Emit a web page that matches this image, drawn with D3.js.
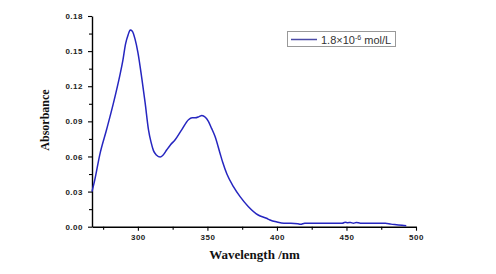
<!DOCTYPE html>
<html>
<head>
<meta charset="utf-8">
<script src="https://cdn.jsdelivr.net/npm/d3@7"></script>
<style>
  body { margin: 0; background: #fff; }
  .tick text { font-family: Arial, "Liberation Sans", sans-serif; font-weight: bold; font-size: 8px; letter-spacing: 0.5px; fill: #222; }
</style>
</head>
<body>
<svg id="chart" width="496" height="274"></svg>
<script>
// wavelength (nm) and absorbance
let wavelength = [267, 269, 272.5, 277.5, 282.5, 286.8, 289.2, 291.1, 293, 294.5, 296, 298,
    300, 302.9, 305.2, 307.6, 309.5, 311.2, 313.5, 316, 318, 320.8, 323.5, 326.8, 331.6, 336.4,
    339, 341.2, 344, 346, 348.5, 350.7, 353, 355.5, 359, 361, 364, 368.7, 373.5, 379.5, 386.5,
    392.5, 395, 400, 405, 410, 415, 417, 420, 430, 440, 447, 449, 451, 453, 455, 457, 460, 470,
    478, 482, 486, 490, 493];
let absorbance = [0.030, 0.040, 0.061, 0.083, 0.106, 0.128, 0.142, 0.156, 0.164, 0.168, 0.167, 0.160,
    0.149, 0.126, 0.106, 0.083, 0.072, 0.065, 0.061, 0.0595, 0.061, 0.0657, 0.070, 0.0743, 0.083, 0.0914,
    0.093, 0.093, 0.094, 0.095, 0.0935, 0.090, 0.084, 0.077, 0.063, 0.055, 0.045, 0.0343, 0.0257, 0.0171, 0.010,
    0.0072, 0.0057, 0.004, 0.003, 0.003, 0.0025, 0.002, 0.003, 0.003, 0.003, 0.003, 0.0038, 0.0034, 0.0036, 0.003, 0.0036, 0.003, 0.003,
    0.003, 0.0022, 0.0017, 0.0012, 0.0008];
let xTicks = [300, 350, 400, 450, 500];
let xMinor = [275, 325, 375, 425, 475];
let yTicks = [0, 0.03, 0.06, 0.09, 0.12, 0.15, 0.18];
let yMinor = [0.015, 0.045, 0.075, 0.105, 0.135, 0.165];
let seriesLabel = "1.8×10";
let seriesExp = "-6";
let seriesUnit = " mol/L";

let svg = d3.select("#chart");
let plotLeft = 92, plotRight = 416, plotTop = 16, plotBottom = 226.7;

let xScale = d3.scaleLinear().domain([267, 500]).range([plotLeft, plotRight]);
let yScale = d3.scaleLinear().domain([0, 0.18]).range([plotBottom, plotTop]);

// minor ticks first so the major axis draws over them
svg.append("g")
   .attr("transform", "translate(0," + plotBottom + ")")
   .call(d3.axisBottom(xScale).tickValues(xMinor).tickSize(3).tickFormat(""))
   .call(g => g.select(".domain").remove());
svg.append("g")
   .attr("transform", "translate(" + plotLeft + ",0)")
   .call(d3.axisLeft(yScale).tickValues(yMinor).tickSize(3).tickFormat(""))
   .call(g => g.select(".domain").remove());

let xAxis = svg.append("g")
   .attr("transform", "translate(0," + plotBottom + ")")
   .call(d3.axisBottom(xScale).tickValues(xTicks).tickSize(4).tickSizeOuter(0).tickPadding(4).tickFormat(d3.format("d")));
let yAxis = svg.append("g")
   .attr("transform", "translate(" + plotLeft + ",0)")
   .call(d3.axisLeft(yScale).tickValues(yTicks).tickSize(4).tickSizeOuter(0).tickPadding(5).tickFormat(d3.format(".2f")));

svg.selectAll(".domain").attr("stroke-width", 1.4);
svg.selectAll(".tick line").attr("stroke-width", 1.1);

// the spectrum
let line = d3.line()
    .x((d, i) => xScale(wavelength[i]))
    .y(d => yScale(d))
    .curve(d3.curveMonotoneX);

svg.append("path")
   .datum(absorbance)
   .attr("d", line)
   .attr("fill", "none")
   .attr("stroke", "#2626c0")
   .attr("stroke-width", 1.5);

// axis titles
svg.append("text")
   .attr("transform", "translate(49,120) rotate(-90)")
   .attr("text-anchor", "middle")
   .style("font-family", "'Liberation Serif', 'Times New Roman', serif")
   .style("font-weight", "bold")
   .style("font-size", "12px")
   .attr("fill", "#111")
   .text("Absorbance");

svg.append("text")
   .attr("x", 254.5)
   .attr("y", 258.5)
   .attr("text-anchor", "middle")
   .style("font-family", "'Liberation Serif', 'Times New Roman', serif")
   .style("font-weight", "bold")
   .style("font-size", "13px")
   .attr("fill", "#111")
   .text("Wavelength /nm");

// legend
let legend = svg.append("g");
legend.append("rect")
   .attr("x", 287.5).attr("y", 31.5)
   .attr("width", 108).attr("height", 15)
   .attr("fill", "#fff")
   .attr("stroke", "#999")
   .attr("stroke-width", 1);
legend.append("line")
   .attr("x1", 291).attr("x2", 317)
   .attr("y1", 39.5).attr("y2", 39.5)
   .attr("stroke", "#4b4ba6")
   .attr("stroke-width", 1.5);
let lt = legend.append("text")
   .attr("x", 321).attr("y", 43.5)
   .style("font-family", "Arial, 'Liberation Sans', sans-serif")
   .style("font-size", "11px")
   .attr("fill", "#333");
lt.append("tspan").text(seriesLabel);
lt.append("tspan").attr("dy", -4).style("font-size", "7px").text(seriesExp);
lt.append("tspan").attr("dy", 4).text(seriesUnit);
</script>
</body>
</html>
